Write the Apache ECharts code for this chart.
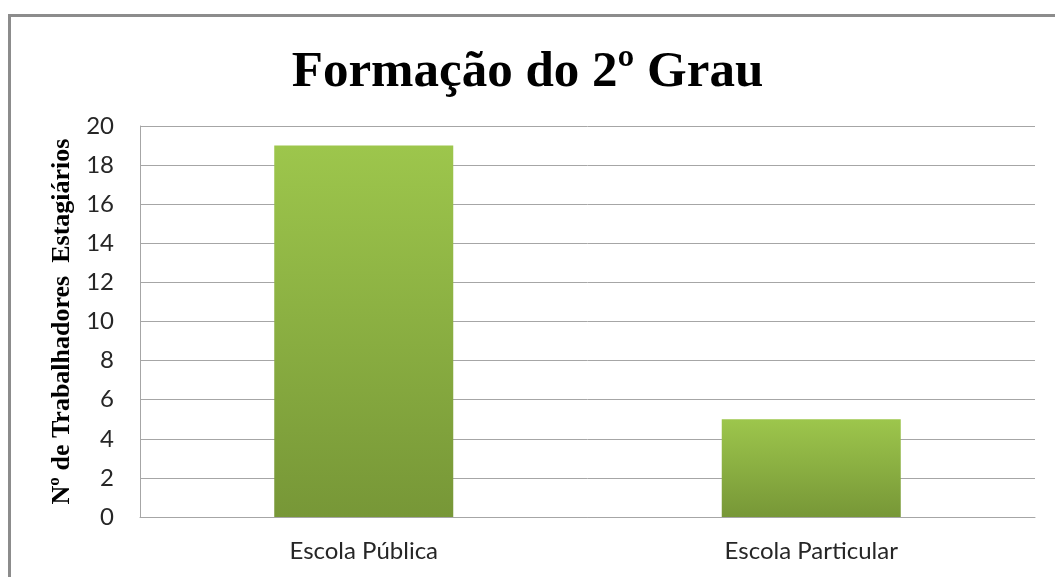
<!DOCTYPE html>
<html>
<head>
<meta charset="utf-8">
<script src="https://cdn.jsdelivr.net/npm/echarts@6/dist/echarts.min.js"></script>
<style>
    html, body { margin: 0; padding: 0; background: #fff; }
    #chart { position: absolute; left: 0; top: 0; width: 1055px; height: 577px; }
    #frame {
        position: absolute; left: 8px; top: 14px; width: 1047px; height: 563px;
        border-top: 3px solid #8c8c8c; border-left: 3px solid #8c8c8c;
        box-sizing: border-box; pointer-events: none;
    }
</style>
</head>
<body>
<div id="chart"></div>
<div id="frame"></div>
<script>
    // dados
    var categorias = ['Escola Pública', 'Escola Particular'];
    var estagiarios = [19, 5];
    var eixoY = { min: 0, max: 20, intervalo: 2 };

    var chartDom = document.getElementById('chart');
    var myChart = echarts.init(chartDom);

    var option = {
        backgroundColor: '#fff',
        title: {
            text: 'Formação do 2º Grau',
            left: 'center',
            top: 42,
            textStyle: {
                fontFamily: 'Liberation Serif',
                fontWeight: 'bold',
                fontSize: 51,
                color: '#000'
            }
        },
        grid: {
            left: 140,
            right: 20,
            top: 126,
            bottom: 60
        },
        xAxis: {
            type: 'category',
            data: categorias,
            axisLine: { lineStyle: { color: '#a6a6a6' } },
            axisTick: { show: false },
            axisLabel: {
                margin: 22,
                fontFamily: 'Lato',
                fontSize: 24,
                color: '#262626'
            }
        },
        yAxis: {
            type: 'value',
            min: eixoY.min,
            max: eixoY.max,
            interval: eixoY.intervalo,
            name: 'Nº de Trabalhadores  Estagiários',
            nameLocation: 'middle',
            nameGap: 62,
            nameTextStyle: {
                fontFamily: 'Liberation Serif',
                fontWeight: 'bold',
                fontSize: 26,
                color: '#000'
            },
            axisLine: { show: true, lineStyle: { color: '#a6a6a6' } },
            axisTick: { show: false },
            axisLabel: {
                margin: 26,
                fontFamily: 'Lato',
                fontSize: 24,
                color: '#262626'
            },
            splitLine: { lineStyle: { color: '#a6a6a6', width: 1 } }
        },
        series: [
            {
                type: 'bar',
                data: estagiarios,
                barWidth: '40%',
                itemStyle: {
                    color: new echarts.graphic.LinearGradient(0, 0, 0, 1, [
                        { offset: 0, color: '#9dc64c' },
                        { offset: 1, color: '#779737' }
                    ]),
                    shadowBlur: 6,
                    shadowColor: 'rgba(0,0,0,0.3)',
                    shadowOffsetX: 2,
                    shadowOffsetY: 2
                }
            }
        ]
    };
    myChart.setOption(option);
</script>
</body>
</html>
